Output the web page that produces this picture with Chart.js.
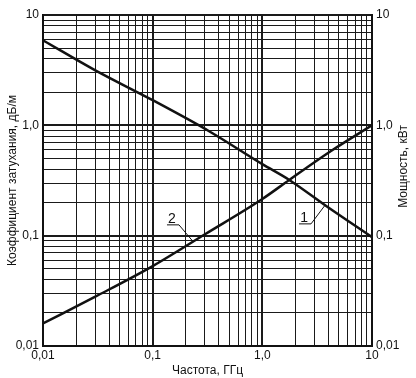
<!DOCTYPE html>
<html lang="ru">
  <head>
    <meta charset="UTF-8" />
    <title>Затухание и мощность</title>
    <script src="https://cdn.jsdelivr.net/npm/chart.js"></script>
    <style>
      html,
      body {
        margin: 0;
        padding: 0;
        background: #fff;
      }
      #wrap {
        width: 416px;
        height: 378px;
      }
    </style>
  </head>
  <body>
    <div id="wrap"><canvas id="chart"></canvas></div>
    <script>
      // кривая 1 - коэффициент затухания, дБ/м
      const freq1 = [0.01, 0.03, 0.1, 0.33, 1.0, 1.76, 4.0, 10];
      const atten = [5.9, 3.15, 1.69, 0.88, 0.445, 0.32, 0.18, 0.097];
      // кривая 2 - мощность, кВт
      const freq2 = [0.01, 0.03, 0.1, 0.3, 1.0, 1.76, 4.4, 10];
      const power = [0.016, 0.028, 0.053, 0.103, 0.215, 0.32, 0.6, 1.0];

      const decadeLabels = { 0.01: "0,01", 0.1: "0,1", 1: "1,0", 10: "10" };
      const curveLabels = [
        { text: "1", textAt: [2.4, 0.148], pointAt: [3.72, 0.188] },
        { text: "2", textAt: [0.15, 0.145], pointAt: [0.228, 0.091] },
      ];

      const FONT = "'Liberation Sans', Arial, sans-serif";

      // все линии сетки: 1..9 в каждой декаде
      function logTicks(scale) {
        const ticks = [];
        for (let e = -2; e <= 0; e++) {
          for (let s = 1; s <= 9; s++) {
            ticks.push({ value: +(s * Math.pow(10, e)).toPrecision(3) });
          }
        }
        ticks.push({ value: 10 });
        scale.ticks = ticks;
      }
      function isDecade(v) {
        return decadeLabels[v] !== undefined;
      }
      function tickLabel(v) {
        return isDecade(v) ? decadeLabels[v] : "";
      }
      const gridOpts = {
        color: "#1a1a1a",
        lineWidth: (c) => (c.tick && isDecade(c.tick.value) ? 2 : 1),
        drawTicks: false,
      };

      function pts(xs, ys) {
        return xs.map((x, i) => ({ x: x, y: ys[i] }));
      }

      const labelsPlugin = {
        id: "labels",
        afterDatasetsDraw(chart) {
          const { ctx, scales, chartArea } = chart;
          const x = scales.x;
          const y = scales.y;
          ctx.save();
          ctx.strokeStyle = "#111";
          ctx.fillStyle = "#111";
          ctx.lineWidth = 1;
          ctx.font = "14px " + FONT;
          ctx.textAlign = "center";
          ctx.textBaseline = "alphabetic";
          curveLabels.forEach((l) => {
            const tx = x.getPixelForValue(l.textAt[0]);
            const ty = y.getPixelForValue(l.textAt[1]);
            const px = x.getPixelForValue(l.pointAt[0]);
            const py = y.getPixelForValue(l.pointAt[1]);
            ctx.fillText(l.text, tx, ty + 5);
            ctx.beginPath();
            ctx.moveTo(tx - 5, ty + 7);
            ctx.lineTo(tx + 7, ty + 7);
            ctx.lineTo(px, py);
            ctx.stroke();
          });
          // подпись правой оси
          ctx.font = "12px " + FONT;
          ctx.translate(404, (chartArea.top + chartArea.bottom) / 2 - 14);
          ctx.rotate(-Math.PI / 2);
          ctx.textBaseline = "middle";
          ctx.fillText("Мощность, кВт", 0, 0);
          ctx.restore();
        },
      };

      new Chart(document.getElementById("chart"), {
        type: "scatter",
        data: {
          datasets: [
            {
              label: "1",
              data: pts(freq1, atten),
              showLine: true,
              borderColor: "#111",
              borderWidth: 2.5,
              pointRadius: 0,
              cubicInterpolationMode: "monotone",
              yAxisID: "y",
            },
            {
              label: "2",
              data: pts(freq2, power),
              showLine: true,
              borderColor: "#111",
              borderWidth: 2.5,
              pointRadius: 0,
              cubicInterpolationMode: "monotone",
              yAxisID: "y2",
            },
          ],
        },
        options: {
          responsive: true,
          maintainAspectRatio: false,
          animation: false,
          layout: { padding: { top: 15, left: 0, right: 0, bottom: 0 } },
          plugins: {
            legend: { display: false },
            tooltip: { enabled: false },
          },
          scales: {
            x: {
              type: "logarithmic",
              min: 0.01,
              max: 10,
              afterBuildTicks: logTicks,
              afterFit: (s) => {
                s.height = 32;
              },
              ticks: {
                autoSkip: false,
                maxRotation: 0,
                padding: 2,
                color: "#111",
                font: { family: FONT, size: 12 },
                callback: (v) => tickLabel(v),
              },
              grid: gridOpts,
              border: { color: "#111", width: 2 },
              title: {
                display: true,
                text: "Частота, ГГц",
                color: "#111",
                font: { family: FONT, size: 12 },
                padding: 0,
              },
            },
            y: {
              type: "logarithmic",
              position: "left",
              min: 0.01,
              max: 10,
              afterBuildTicks: logTicks,
              afterFit: (s) => {
                s.width = 43;
              },
              ticks: {
                autoSkip: false,
                padding: 4,
                color: "#111",
                font: { family: FONT, size: 12 },
                callback: (v) => tickLabel(v),
              },
              grid: gridOpts,
              border: { color: "#111", width: 2 },
              title: {
                display: true,
                text: "Коэффициент затухания, дБ/м",
                color: "#111",
                font: { family: FONT, size: 12 },
                padding: { top: 5, bottom: 0 },
              },
            },
            y2: {
              type: "logarithmic",
              position: "right",
              min: 0.01,
              max: 10,
              afterBuildTicks: logTicks,
              afterFit: (s) => {
                s.width = 44;
              },
              ticks: {
                autoSkip: false,
                padding: 4,
                color: "#111",
                font: { family: FONT, size: 12 },
                callback: (v) => tickLabel(v),
              },
              grid: { display: false, drawTicks: false },
              border: { color: "#111", width: 2 },
            },
          },
        },
        plugins: [labelsPlugin],
      });
    </script>
  </body>
</html>
